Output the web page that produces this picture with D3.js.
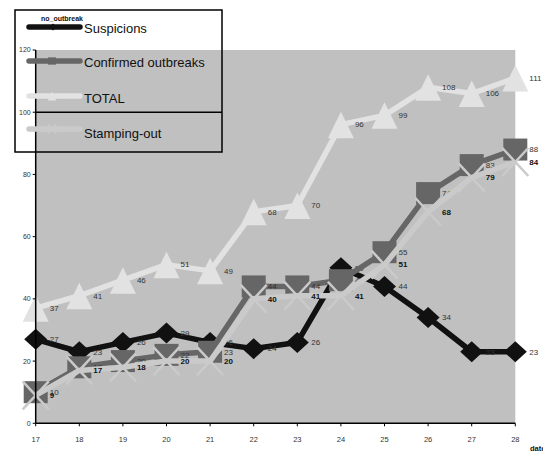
<!DOCTYPE html>
<html><head><meta charset="utf-8">
<script src="https://cdn.jsdelivr.net/npm/d3@7"></script>
<style>html,body{margin:0;padding:0;background:#fff;}svg{display:block;font-family:"Liberation Sans",Arial,sans-serif;}</style>
</head><body>
<svg id="chart" width="543" height="452"></svg>
<script>
const dates = [17,18,19,20,21,22,23,24,25,26,27,28];
const suspicions = [27,23,26,29,26,24,26,50,44,34,23,23];
const confirmed = [10,18,20,22,23,44,44,46,55,74,83,88];
const total = [37,41,46,51,49,68,70,96,99,108,106,111];
const stamping = [9,17,18,20,20,40,41,41,51,68,79,84];
const yTicks = [0,20,40,60,80,100,120];
const seriesNames = ["Suspicions","Confirmed outbreaks","TOTAL","Stamping-out"];

const svg = d3.select("#chart");
const x = d3.scalePoint().domain(dates).range([35.7, 515.3]);
const y = d3.scaleLinear().domain([0,120]).range([423.3, 50]);

// plot area
svg.append("rect").attr("x", x(17)).attr("y", y(120)).attr("width", x(28)-x(17)).attr("height", y(0)-y(120)).attr("fill", "#c0c0c0");

const series = [
  {name: seriesNames[0], values: suspicions, color: "#111111", marker: "diamond", label: "#333", bold: false},
  {name: seriesNames[1], values: confirmed, color: "#666666", marker: "square", label: "#333", bold: false},
  {name: seriesNames[2], values: total, color: "#e2e2e2", marker: "triangle", label: "#333", bold: false},
  {name: seriesNames[3], values: stamping, color: "#cacaca", marker: "x", label: "#111", bold: true}
];

function drawMarker(g, type, color, s) {
  if (type === "diamond") {
    g.append("path").attr("d", `M0,${-10.5*s}L${11.5*s},0L0,${10.5*s}L${-11.5*s},0Z`).attr("fill", color);
  } else if (type === "square") {
    g.append("rect").attr("x", -12*s).attr("y", -11*s).attr("width", 24*s).attr("height", 22*s).attr("fill", color);
  } else if (type === "triangle") {
    g.append("path").attr("d", `M0,${-13*s}L${13*s},${13.5*s}L${-13*s},${13.5*s}Z`).attr("fill", color);
  } else {
    g.append("path").attr("d", `M${-13*s},${-14*s}L${13*s},${14*s}M${-13*s},${14*s}L${13*s},${-14*s}`)
      .attr("stroke", color).attr("stroke-width", 2.5*Math.max(s,0.6)).attr("fill", "none");
  }
}

const line = d3.line().x((d,i) => x(dates[i])).y(d => y(d));

series.forEach(s => {
  const g = svg.append("g");
  g.append("path").attr("d", line(s.values)).attr("fill", "none").attr("stroke", s.color)
    .attr("stroke-width", 5.5).attr("stroke-linejoin", "round");
  s.values.forEach((v, i) => {
    const m = g.append("g").attr("transform", `translate(${x(dates[i])},${y(v)})`);
    drawMarker(m, s.marker, s.color, 1);
  });
  s.values.forEach((v, i) => {
    g.append("text").attr("x", x(dates[i]) + 14).attr("y", y(v)).attr("dy", "0.35em")
      .attr("font-size", 8).attr("fill", s.label).attr("font-weight", s.bold ? "bold" : "normal").text(v);
  });
});

// axes
svg.append("line").attr("x1", x(17)).attr("x2", x(17)).attr("y1", y(120)).attr("y2", y(0)).attr("stroke", "#000").attr("stroke-width", 1.5);
svg.append("line").attr("x1", x(17)).attr("x2", x(28)).attr("y1", y(0)).attr("y2", y(0)).attr("stroke", "#000").attr("stroke-width", 1.5);
yTicks.forEach(t => {
  svg.append("line").attr("x1", x(17)-3).attr("x2", x(17)).attr("y1", y(t)).attr("y2", y(t)).attr("stroke", "#000").attr("stroke-width", 1);
  svg.append("text").attr("x", x(17)-5).attr("y", y(t)).attr("dy", "0.35em").attr("text-anchor", "end")
    .attr("font-size", 7).attr("fill", "#333").text(t);
});
dates.forEach(d => {
  svg.append("line").attr("x1", x(d)).attr("x2", x(d)).attr("y1", y(0)).attr("y2", y(0)+3).attr("stroke", "#000").attr("stroke-width", 1);
  svg.append("text").attr("x", x(d)).attr("y", 442).attr("text-anchor", "middle")
    .attr("font-size", 7.5).attr("fill", "#333").text(d);
});
svg.append("text").attr("x", 530).attr("y", 451).attr("font-size", 7.5).attr("font-weight", "bold").attr("fill", "#111").text("date");

// legend
const leg = svg.append("g");
leg.append("rect").attr("x", 15).attr("y", 10).attr("width", 207).attr("height", 142).attr("fill", "none").attr("stroke", "#000").attr("stroke-width", 1.5);
leg.append("line").attr("x1", x(17)).attr("x2", 222).attr("y1", y(100)).attr("y2", y(100)).attr("stroke", "#000").attr("stroke-width", 1.5);
const legY = [27, 61, 96, 129];
const legTextY = [33, 67, 103, 138];
series.forEach((s, i) => {
  leg.append("line").attr("x1", 29).attr("x2", 80).attr("y1", legY[i]).attr("y2", legY[i]).attr("stroke", s.color).attr("stroke-width", 5.5).attr("stroke-linecap", "round");
  const m = leg.append("g").attr("transform", `translate(${i===0?53:52},${legY[i]})`);
  drawMarker(m, s.marker, s.color, 0.33);
  leg.append("text").attr("x", 84).attr("y", legTextY[i]).attr("font-size", 13).attr("fill", "#111").text(s.name);
});
leg.append("text").attr("x", 41).attr("y", 21).attr("font-size", 7).attr("font-weight", "bold").attr("fill", "#111").text("no_outbreak");
</script>
</body></html>
